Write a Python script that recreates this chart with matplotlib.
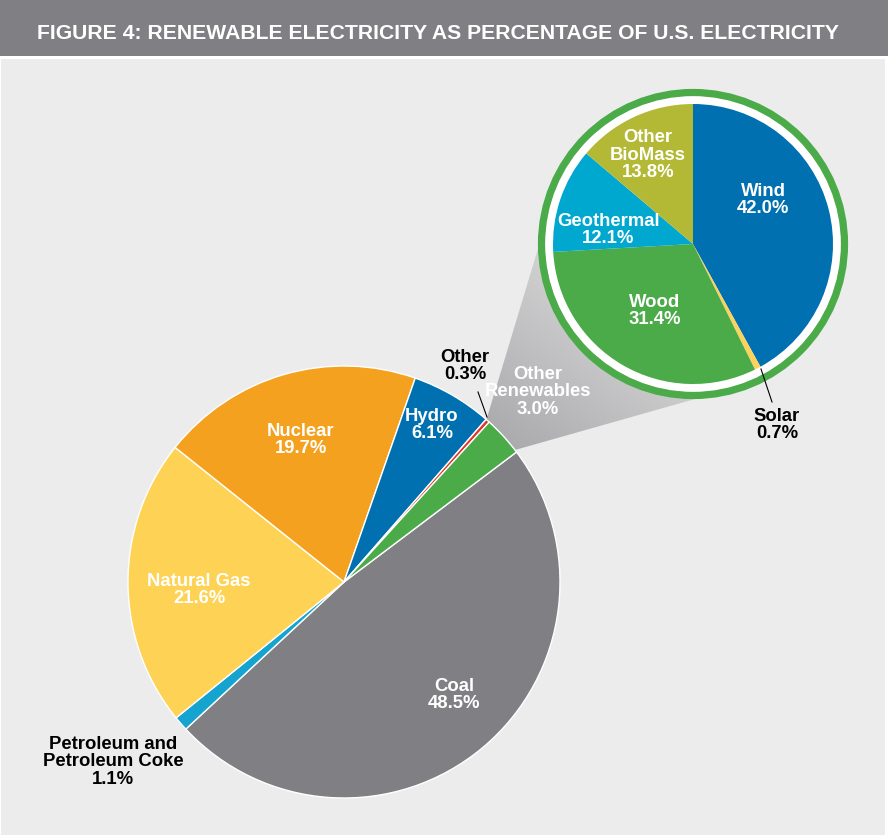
import numpy as np
import matplotlib
matplotlib.use("Agg")
import matplotlib.pyplot as plt
from matplotlib.patches import Polygon, Circle, Rectangle

# Main pie data (clockwise from the Coal slice)
main_labels = ['Coal', 'Petroleum and\nPetroleum Coke', 'Natural Gas', 'Nuclear',
               'Hydro', 'Other', 'Other\nRenewables']
main_values = [48.5, 1.1, 21.6, 19.7, 6.1, 0.3, 3.0]
main_colors = ['#807f83', '#15a3cf', '#fed254', '#f3a11f', '#0070b0', '#e0352b', '#4aab48']

# Renewables breakdown (clockwise from top)
ren_labels = ['Wind', 'Solar', 'Wood', 'Geothermal', 'Other\nBioMass']
ren_values = [42.0, 0.7, 31.4, 12.1, 13.8]
ren_colors = ['#0070b0', '#fcd25a', '#4aab48', '#00a7cf', '#b3b935']

W, H = 888, 837
fig = plt.figure(figsize=(W / 100, H / 100), dpi=100)
fig.patch.set_facecolor('white')
ax = fig.add_axes([0, 0, 1, 1])


def Y(y):
    # image row -> data y
    return H - y


# background panel and title bar
ax.add_patch(Rectangle((1, 1), W - 4, Y(60) - 1, facecolor='#ececec', edgecolor='none', zorder=0))
ax.add_patch(Rectangle((0, Y(57)), W, 57, facecolor='#807f84', edgecolor='none', zorder=0))
ax.text(37, Y(33), 'FIGURE 4: RENEWABLE ELECTRICITY AS PERCENTAGE OF U.S. ELECTRICITY',
        color='white', fontsize=15.2, fontweight='bold', va='center', ha='left',
        family=['Liberation Sans Narrow', 'Liberation Sans'])

# connector from the renewables slice to the breakdown circle
conn = Polygon([(486, Y(422)), (515, Y(451)), (702, Y(398)), (556, Y(190))],
               closed=True, facecolor='none', edgecolor='none')
ax.add_patch(conn)
gx, gy = np.meshgrid(np.linspace(480, 710, 200), np.linspace(Y(185), Y(455), 200))
t = ((gx - 486) * 0.6 + (gy - Y(445)) * 0.8) / 300
t = np.clip(t, 0, 1)
dark = np.array([0.66, 0.66, 0.67])
light = np.array([0.92, 0.92, 0.92])
img = dark[None, None, :] * (1 - t[..., None]) + light[None, None, :] * t[..., None]
im = ax.imshow(img, extent=(480, 710, Y(455), Y(185)), origin='upper', zorder=1,
               interpolation='bilinear')
im.set_clip_path(conn)

# main pie
ax.pie(main_values, colors=main_colors, startangle=37, counterclock=False,
       center=(344, Y(583)), radius=216,
       wedgeprops=dict(edgecolor='white', linewidth=1.0, zorder=2))

# breakdown pie with ring
cx, cy = 693, Y(245)
ax.add_patch(Circle((cx, cy), 148, facecolor='white', edgecolor='none', zorder=2))
ax.pie(ren_values, colors=ren_colors, startangle=90, counterclock=False,
       center=(cx, cy), radius=140, wedgeprops=dict(edgecolor='none', zorder=3))
ax.add_patch(Circle((cx, cy), 151.5, facecolor='none', edgecolor='#4aab48',
                    linewidth=5.2, zorder=3))

ax.set_xlim(0, W)
ax.set_ylim(0, H)
ax.set_aspect('equal')
ax.axis('off')

lab = dict(fontsize=13.3, fontweight='bold', ha='center', va='center',
           family=['Liberation Sans', 'DejaVu Sans'], linespacing=1.07, zorder=5)


def put(x, y, name, val, color='white'):
    ax.text(x, Y(y), f'{name}\n{val:.1f}%', color=color, **lab)


# main labels
put(454, 695, main_labels[0], main_values[0])
put(113, 762, main_labels[1], main_values[1], color='black')
put(199, 590, main_labels[2], main_values[2])
put(301, 440, main_labels[3], main_values[3])
put(432, 425, main_labels[4], main_values[4])
put(465, 366, main_labels[5], main_values[5], color='black')
put(538, 392, main_labels[6], main_values[6])
ax.plot([478, 487], [Y(393), Y(418)], color='black', lw=0.8, zorder=5)

# breakdown labels
put(763, 200, ren_labels[0], ren_values[0])
put(777, 425, ren_labels[1], ren_values[1], color='black')
put(655, 311, ren_labels[2], ren_values[2])
put(608, 230, ren_labels[3], ren_values[3])
put(648, 155, ren_labels[4], ren_values[4])
ax.plot([761, 772], [Y(370), Y(403)], color='black', lw=0.8, zorder=5)

fig.savefig('out.png', dpi=100)
